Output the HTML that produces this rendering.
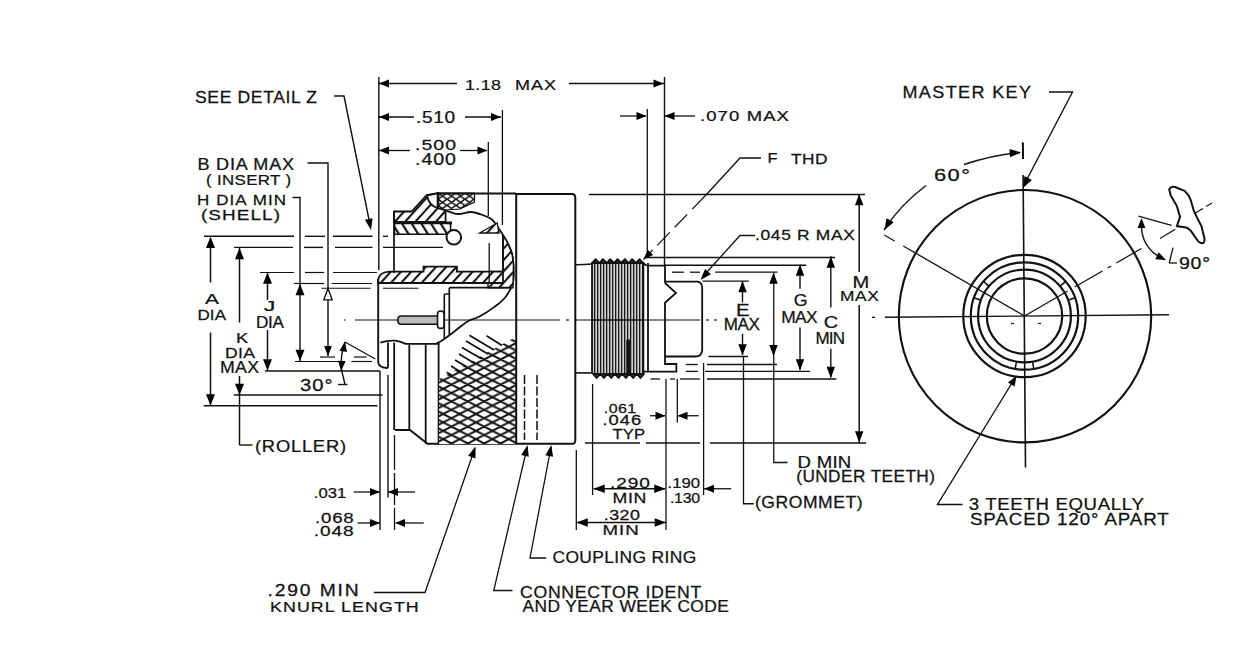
<!DOCTYPE html>
<html><head><meta charset="utf-8"><style>
html,body{margin:0;padding:0;background:#fff;}
svg{display:block;}
text{font-family:"Liberation Sans",sans-serif;fill:#111;stroke:#111;stroke-width:0.25px;}
</style></head><body>
<svg width="1240" height="651" viewBox="0 0 1240 651">
<rect width="1240" height="651" fill="#fff"/>
<g stroke="#111" stroke-linecap="butt" fill="none">
<line x1="378" y1="83.5" x2="457" y2="83.5" stroke-width="1.3"/>
<line x1="569" y1="83.5" x2="664" y2="83.5" stroke-width="1.3"/>
<polygon points="379.00,83.50 389.00,79.60 389.00,87.40" fill="#000" stroke="none"/>
<polygon points="663.50,83.50 653.50,87.40 653.50,79.60" fill="#000" stroke="none"/>
<line x1="378.8" y1="77" x2="378.8" y2="270" stroke-width="1.4"/>
<line x1="664.5" y1="77" x2="664.5" y2="266" stroke-width="1.4"/>
<line x1="378" y1="117" x2="414" y2="117" stroke-width="1.3"/>
<line x1="465" y1="117" x2="501" y2="117" stroke-width="1.3"/>
<polygon points="379.00,117.00 389.00,113.10 389.00,120.90" fill="#000" stroke="none"/>
<polygon points="501.00,117.00 491.00,120.90 491.00,113.10" fill="#000" stroke="none"/>
<line x1="502.4" y1="110" x2="502.4" y2="225" stroke-width="1.3"/>
<line x1="378" y1="150.5" x2="410" y2="150.5" stroke-width="1.3"/>
<line x1="460" y1="150.5" x2="487" y2="150.5" stroke-width="1.3"/>
<polygon points="379.00,150.50 389.00,146.60 389.00,154.40" fill="#000" stroke="none"/>
<polygon points="487.50,150.50 477.50,154.40 477.50,146.60" fill="#000" stroke="none"/>
<line x1="488.3" y1="142" x2="488.3" y2="216" stroke-width="1.3"/>
<line x1="620" y1="116" x2="646" y2="116" stroke-width="1.3"/>
<line x1="664" y1="116" x2="695" y2="116" stroke-width="1.3"/>
<polygon points="646.50,116.00 636.50,119.90 636.50,112.10" fill="#000" stroke="none"/>
<polygon points="664.50,116.00 674.50,112.10 674.50,119.90" fill="#000" stroke="none"/>
<line x1="647.3" y1="109" x2="647.3" y2="258" stroke-width="1.3"/>
<polyline points="334,96 344,96 370.5,227" fill="none" stroke-width="1.4"/>
<polygon points="371.00,230.00 364.95,219.74 372.60,218.20" fill="#000" stroke="none"/>
<polyline points="307.5,163 328,163 328,356" fill="none" stroke-width="1.4"/>
<polygon points="328.00,288.60 332.20,299.85 323.80,299.85" fill="#fff" stroke-width="1.4"/>
<polygon points="328.00,356.00 324.10,346.00 331.90,346.00" fill="#000" stroke="none"/>
<polyline points="292.5,197.5 300,197.5 300,361" fill="none" stroke-width="1.4"/>
<polygon points="300.00,284.00 304.50,295.25 295.50,295.25" fill="#000" stroke="none"/>
<polygon points="300.00,361.00 295.50,349.75 304.50,349.75" fill="#000" stroke="none"/>
<line x1="210.5" y1="238" x2="210.5" y2="282.5" stroke-width="1.5"/>
<line x1="210.5" y1="332.5" x2="210.5" y2="405.5" stroke-width="1.5"/>
<polygon points="210.50,236.80 215.00,248.05 206.00,248.05" fill="#000" stroke="none"/>
<polygon points="210.50,405.50 206.00,394.25 215.00,394.25" fill="#000" stroke="none"/>
<line x1="239.5" y1="248" x2="239.5" y2="322.5" stroke-width="1.5"/>
<line x1="239.5" y1="376" x2="239.5" y2="445" stroke-width="1.5"/>
<polygon points="239.50,247.90 244.00,259.15 235.00,259.15" fill="#000" stroke="none"/>
<polygon points="239.50,395.00 235.00,383.75 244.00,383.75" fill="#000" stroke="none"/>
<line x1="239.5" y1="445" x2="252.5" y2="445" stroke-width="1.4"/>
<line x1="267.5" y1="272.5" x2="267.5" y2="300" stroke-width="1.5"/>
<line x1="267.5" y1="330" x2="267.5" y2="371" stroke-width="1.5"/>
<polygon points="267.50,272.50 272.00,283.75 263.00,283.75" fill="#000" stroke="none"/>
<polygon points="267.50,370.50 263.00,359.25 272.00,359.25" fill="#000" stroke="none"/>
<line x1="204" y1="236.3" x2="294" y2="236.3" stroke-width="1.4"/>
<line x1="305" y1="236.3" x2="325" y2="236.3" stroke-width="1.4"/>
<line x1="333" y1="236.3" x2="372.5" y2="236.3" stroke-width="1.4"/>
<line x1="383" y1="236.3" x2="388" y2="236.3" stroke-width="1.4"/>
<line x1="234" y1="247.4" x2="293" y2="247.4" stroke-width="1.4"/>
<line x1="304" y1="247.4" x2="323" y2="247.4" stroke-width="1.4"/>
<line x1="335" y1="247.4" x2="372.5" y2="247.4" stroke-width="1.4"/>
<line x1="383" y1="247.4" x2="443" y2="247.4" stroke-width="1.4"/>
<line x1="260" y1="272.5" x2="294" y2="272.5" stroke-width="1.2"/>
<line x1="305" y1="272.5" x2="324" y2="272.5" stroke-width="1.2"/>
<line x1="333" y1="272.5" x2="377" y2="272.5" stroke-width="1.2"/>
<line x1="294" y1="283.5" x2="324" y2="283.5" stroke-width="1.2"/>
<line x1="331.6" y1="283.5" x2="372" y2="283.5" stroke-width="1.2"/>
<line x1="321.5" y1="288.3" x2="370.6" y2="288.3" stroke-width="1.1"/>
<line x1="383" y1="288.3" x2="418.5" y2="288.3" stroke-width="1.1"/>
<line x1="320" y1="357" x2="335" y2="357" stroke-width="1.2"/>
<line x1="354" y1="357" x2="366.5" y2="357" stroke-width="1.2"/>
<line x1="295" y1="361.5" x2="345" y2="361.5" stroke-width="1.2"/>
<line x1="351.5" y1="361.5" x2="372" y2="361.5" stroke-width="1.2"/>
<line x1="265" y1="371" x2="380" y2="371" stroke-width="1.4"/>
<line x1="233.75" y1="395" x2="382.5" y2="395" stroke-width="1.3"/>
<line x1="203.75" y1="405.75" x2="377.5" y2="405.75" stroke-width="1.3"/>
<path d="M345,342 Q340,356 341.6,370 L345,384.5" fill="none" stroke-width="1.4"/>
<line x1="338" y1="384.5" x2="347.5" y2="384.5" stroke-width="1.4"/>
<polygon points="345.00,341.50 346.96,352.00 339.57,350.70" fill="#000" stroke="none"/>
<polygon points="341.00,371.00 338.14,360.71 345.61,361.36" fill="#000" stroke="none"/>
<line x1="345" y1="342" x2="375.3" y2="359" stroke-width="1.3"/>
<line x1="380" y1="371" x2="380" y2="530" stroke-width="1.4"/>
<line x1="388" y1="375" x2="388" y2="497.5" stroke-width="1.4"/>
<line x1="394.5" y1="435" x2="394.5" y2="470" stroke-width="1.3"/>
<line x1="394.5" y1="473" x2="394.5" y2="505" stroke-width="1.3"/>
<line x1="394.5" y1="508" x2="394.5" y2="530" stroke-width="1.3"/>
<line x1="353.75" y1="492" x2="380" y2="492" stroke-width="1.3"/>
<line x1="387.5" y1="492" x2="415" y2="492" stroke-width="1.3"/>
<polygon points="380.00,492.00 370.00,495.90 370.00,488.10" fill="#000" stroke="none"/>
<polygon points="388.00,492.00 398.00,488.10 398.00,495.90" fill="#000" stroke="none"/>
<line x1="357.5" y1="523" x2="380" y2="523" stroke-width="1.3"/>
<line x1="396.25" y1="523" x2="423.75" y2="523" stroke-width="1.3"/>
<polygon points="380.00,523.00 370.00,526.90 370.00,519.10" fill="#000" stroke="none"/>
<polygon points="395.00,523.00 405.00,519.10 405.00,526.90" fill="#000" stroke="none"/>
<polyline points="373.75,592.5 425,592.5 475,448" fill="none" stroke-width="1.3"/>
<polygon points="475.50,446.50 475.51,458.41 468.14,455.86" fill="#000" stroke="none"/>
<polyline points="546.25,558 530,558 551,447" fill="none" stroke-width="1.3"/>
<polygon points="551.30,445.00 553.05,456.78 545.38,455.33" fill="#000" stroke="none"/>
<polyline points="512.5,590.5 493.75,590.5 527.2,447" fill="none" stroke-width="1.3"/>
<polygon points="527.50,445.00 528.76,456.84 521.16,455.08" fill="#000" stroke="none"/>
<line x1="585" y1="443" x2="640" y2="443" stroke-width="1.3"/>
<line x1="646" y1="443" x2="700" y2="443" stroke-width="1.3"/>
<line x1="710" y1="443" x2="866" y2="443" stroke-width="1.3"/>
<line x1="576.3" y1="450" x2="576.3" y2="530" stroke-width="1.3"/>
<line x1="592.6" y1="384" x2="592.6" y2="495" stroke-width="1.3"/>
<line x1="666" y1="379" x2="666" y2="530" stroke-width="1.3"/>
<line x1="677.3" y1="379" x2="677.3" y2="422.5" stroke-width="1.3"/>
<line x1="703.6" y1="363" x2="703.6" y2="495" stroke-width="1.3"/>
<polyline points="743.5,357 743.5,503.75 753.75,503.75" fill="none" stroke-width="1.3"/>
<polyline points="773.75,272.5 773.75,462.5 787.5,462.5" fill="none" stroke-width="1.3"/>
<line x1="650" y1="415.75" x2="665" y2="415.75" stroke-width="1.3"/>
<line x1="677.5" y1="415.75" x2="698.75" y2="415.75" stroke-width="1.3"/>
<polygon points="665.50,415.75 655.50,419.65 655.50,411.85" fill="#000" stroke="none"/>
<polygon points="677.50,415.75 687.50,411.85 687.50,419.65" fill="#000" stroke="none"/>
<line x1="593.75" y1="488.75" x2="665" y2="488.75" stroke-width="1.3"/>
<polygon points="593.50,488.75 604.75,484.55 604.75,492.95" fill="#000" stroke="none"/>
<polygon points="665.50,488.75 654.25,492.95 654.25,484.55" fill="#000" stroke="none"/>
<line x1="703.75" y1="488.75" x2="731.25" y2="488.75" stroke-width="1.3"/>
<polygon points="704.00,488.75 714.00,484.85 714.00,492.65" fill="#000" stroke="none"/>
<line x1="576.25" y1="522.5" x2="666.25" y2="522.5" stroke-width="1.3"/>
<polygon points="576.50,522.50 587.75,518.30 587.75,526.70" fill="#000" stroke="none"/>
<polygon points="666.00,522.50 654.75,526.70 654.75,518.30" fill="#000" stroke="none"/>
<line x1="645" y1="257.5" x2="835" y2="257.5" stroke-width="1.4"/>
<line x1="665" y1="265.3" x2="806.25" y2="265.3" stroke-width="1.4"/>
<line x1="672" y1="272.2" x2="684" y2="272.2" stroke-width="1.3"/>
<line x1="690" y1="272.2" x2="700" y2="272.2" stroke-width="1.3"/>
<line x1="715" y1="272.2" x2="777.5" y2="272.2" stroke-width="1.3"/>
<line x1="702.5" y1="281.2" x2="748.75" y2="281.2" stroke-width="1.3"/>
<line x1="708.5" y1="356.5" x2="748" y2="356.5" stroke-width="1.3"/>
<line x1="685.8" y1="364.5" x2="697.8" y2="364.5" stroke-width="1.3"/>
<line x1="707" y1="364.5" x2="777" y2="364.5" stroke-width="1.3"/>
<line x1="685.8" y1="371.4" x2="697.8" y2="371.4" stroke-width="1.3"/>
<line x1="705" y1="371.4" x2="810" y2="371.4" stroke-width="1.3"/>
<line x1="650.6" y1="379" x2="660" y2="379" stroke-width="1.3"/>
<line x1="670" y1="379" x2="675" y2="379" stroke-width="1.3"/>
<line x1="680" y1="379" x2="700" y2="379" stroke-width="1.3"/>
<line x1="707" y1="379" x2="836.25" y2="379" stroke-width="1.3"/>
<line x1="742.5" y1="281" x2="742.5" y2="302.5" stroke-width="1.4"/>
<line x1="742.5" y1="333.75" x2="742.5" y2="355" stroke-width="1.4"/>
<polygon points="742.50,281.00 746.70,292.25 738.30,292.25" fill="#000" stroke="none"/>
<polygon points="742.50,355.50 738.30,344.25 746.70,344.25" fill="#000" stroke="none"/>
<polygon points="773.50,272.50 777.70,283.75 769.30,283.75" fill="#000" stroke="none"/>
<polygon points="773.50,356.30 769.30,345.05 777.70,345.05" fill="#000" stroke="none"/>
<line x1="800" y1="264.5" x2="800" y2="288.75" stroke-width="1.4"/>
<line x1="800" y1="327.5" x2="800" y2="370" stroke-width="1.4"/>
<polygon points="800.00,264.50 804.20,275.75 795.80,275.75" fill="#000" stroke="none"/>
<polygon points="800.00,370.50 795.80,359.25 804.20,359.25" fill="#000" stroke="none"/>
<line x1="830.8" y1="256.25" x2="830.8" y2="307.5" stroke-width="1.4"/>
<line x1="830.8" y1="348.75" x2="830.8" y2="377.5" stroke-width="1.4"/>
<polygon points="830.80,256.50 835.00,267.75 826.60,267.75" fill="#000" stroke="none"/>
<polygon points="830.80,378.00 826.60,366.75 835.00,366.75" fill="#000" stroke="none"/>
<line x1="859.2" y1="194" x2="859.2" y2="272" stroke-width="1.5"/>
<line x1="859.2" y1="305" x2="859.2" y2="442.5" stroke-width="1.5"/>
<polygon points="859.20,194.00 863.40,205.25 855.00,205.25" fill="#000" stroke="none"/>
<polygon points="859.20,442.50 855.00,431.25 863.40,431.25" fill="#000" stroke="none"/>
<line x1="589" y1="194.5" x2="865" y2="194.5" stroke-width="1.4"/>
<polyline points="755,235.5 740,235.5 702,277.5" fill="none" stroke-width="1.3"/>
<polygon points="700.50,280.00 705.05,269.00 710.88,274.18" fill="#000" stroke="none"/>
<polyline points="761,158 740,158 706,195" fill="none" stroke-width="1.3"/>
<line x1="706.0" y1="195.0" x2="692.25" y2="209.19" stroke-width="1.2"/>
<line x1="687.25" y1="214.35" x2="674.75" y2="227.25" stroke-width="1.2"/>
<line x1="669.75" y1="232.41" x2="657.25" y2="245.31" stroke-width="1.2"/>
<line x1="652.875" y1="249.825" x2="643.5" y2="259.5" stroke-width="1.2"/>
<polygon points="643.50,259.50 647.77,249.71 653.15,254.93" fill="#000" stroke="none"/>
</g>
<g>
<text transform="translate(195,103.3) scale(1.097,1)" font-size="15.99" textLength="111.21" lengthAdjust="spacing">SEE DETAIL Z</text>
<text transform="translate(465,89.8) scale(1.167,1)" font-size="15.26" textLength="30.86" lengthAdjust="spacing">1.18</text>
<text transform="translate(515,89.8) scale(1.180,1)" font-size="15.26" textLength="34.75" lengthAdjust="spacing">MAX</text>
<text transform="translate(416,123.2) scale(1.193,1)" font-size="15.99" textLength="32.70" lengthAdjust="spacing">.510</text>
<text transform="translate(415,150.3) scale(1.273,1)" font-size="15.26" textLength="32.21" lengthAdjust="spacing">.500</text>
<text transform="translate(415,164.5) scale(1.249,1)" font-size="15.70" textLength="32.83" lengthAdjust="spacing">.400</text>
<text transform="translate(197.5,170.2) scale(1.131,1)" font-size="15.99" textLength="85.35" lengthAdjust="spacing">B DIA MAX</text>
<text transform="translate(206,184.5) scale(1.085,1)" font-size="15.55" textLength="78.36" lengthAdjust="spacing">( INSERT )</text>
<text transform="translate(197,205.2) scale(1.093,1)" font-size="15.55" textLength="81.44" lengthAdjust="spacing">H  DIA MIN</text>
<text transform="translate(201,219.5) scale(1.216,1)" font-size="15.55" textLength="64.96" lengthAdjust="spacing">(SHELL)</text>
<text transform="translate(700,121.2) scale(1.215,1)" font-size="15.26" textLength="73.23" lengthAdjust="spacing">.070 MAX</text>
<text transform="translate(767.5,162.7) scale(1.120,1)" font-size="14.68" textLength="8.04" lengthAdjust="spacing">F</text>
<text transform="translate(791,164.2) scale(1.134,1)" font-size="15.26" textLength="32.19" lengthAdjust="spacing">THD</text>
<text transform="translate(902.5,98.2) scale(1.128,1)" font-size="15.99" textLength="113.91" lengthAdjust="spacing">MASTER  KEY</text>
<text transform="translate(934,181.2) scale(1.331,1)" font-size="16.42" textLength="27.04" lengthAdjust="spacing">60°</text>
<text transform="translate(1179,269.2) scale(1.224,1)" font-size="15.99" textLength="25.33" lengthAdjust="spacing">90°</text>
<text transform="translate(755,239.7) scale(1.143,1)" font-size="15.26" textLength="87.49" lengthAdjust="spacing">.045 R MAX</text>
<text transform="translate(205,304.2) scale(1.371,1)" font-size="15.26" textLength="10.21" lengthAdjust="spacing">A</text>
<text transform="translate(197.5,320.2) scale(1.115,1)" font-size="15.26" textLength="25.56" lengthAdjust="spacing">DIA</text>
<text transform="translate(236,342.7) scale(1.197,1)" font-size="15.26" textLength="9.60" lengthAdjust="spacing">K</text>
<text transform="translate(225,357.7) scale(1.153,1)" font-size="15.26" textLength="26.03" lengthAdjust="spacing">DIA</text>
<text transform="translate(220,373.2) scale(1.108,1)" font-size="15.99" textLength="35.20" lengthAdjust="spacing">MAX</text>
<text transform="translate(264,311.2) scale(1.481,1)" font-size="15.26" textLength="7.43" lengthAdjust="spacing">J</text>
<text transform="translate(256,328.2) scale(1.071,1)" font-size="15.99" textLength="26.15" lengthAdjust="spacing">DIA</text>
<text transform="translate(300,390.7) scale(1.264,1)" font-size="15.99" textLength="25.72" lengthAdjust="spacing">30°</text>
<text transform="translate(255,451.5) scale(1.148,1)" font-size="15.99" textLength="79.29" lengthAdjust="spacing">(ROLLER)</text>
<text transform="translate(313.75,497.7) scale(1.092,1)" font-size="15.26" textLength="29.76" lengthAdjust="spacing">.031</text>
<text transform="translate(315,522.7) scale(1.225,1)" font-size="15.26" textLength="31.63" lengthAdjust="spacing">.068</text>
<text transform="translate(313.75,535.7) scale(1.252,1)" font-size="15.26" textLength="31.96" lengthAdjust="spacing">.048</text>
<text transform="translate(267.5,596.2) scale(1.209,1)" font-size="15.99" textLength="75.50" lengthAdjust="spacing">.290  MIN</text>
<text transform="translate(270,611.9) scale(1.167,1)" font-size="15.26" textLength="127.45" lengthAdjust="spacing">KNURL LENGTH</text>
<text transform="translate(736,315.7) scale(1.223,1)" font-size="16.72" textLength="10.63" lengthAdjust="spacing">E</text>
<text transform="translate(723.75,329.7) scale(1.046,1)" font-size="16.28" textLength="34.64" lengthAdjust="spacing">MAX</text>
<text transform="translate(793.75,306.4) scale(1.051,1)" font-size="17.01" textLength="11.90" lengthAdjust="spacing">G</text>
<text transform="translate(781.25,322.7) scale(1.019,1)" font-size="17.01" textLength="35.58" lengthAdjust="spacing">MAX</text>
<text transform="translate(823.75,327.7) scale(1.180,1)" font-size="17.01" textLength="11.66" lengthAdjust="spacing">C</text>
<text transform="translate(815.5,343.9) scale(1.001,1)" font-size="17.01" textLength="29.48" lengthAdjust="spacing">MIN</text>
<text transform="translate(852.5,287.7) scale(1.182,1)" font-size="17.01" textLength="13.75" lengthAdjust="spacing">M</text>
<text transform="translate(840,301.4) scale(1.137,1)" font-size="15.26" textLength="34.08" lengthAdjust="spacing">MAX</text>
<text transform="translate(603.75,412.7) scale(1.181,1)" font-size="13.52" textLength="27.51" lengthAdjust="spacing">.061</text>
<text transform="translate(602.5,424.7) scale(1.266,1)" font-size="14.53" textLength="30.60" lengthAdjust="spacing">.046</text>
<text transform="translate(612.5,438.9) scale(1.093,1)" font-size="15.26" textLength="29.75" lengthAdjust="spacing">TYP</text>
<text transform="translate(610,487.7) scale(1.252,1)" font-size="15.26" textLength="31.96" lengthAdjust="spacing">.290</text>
<text transform="translate(612.5,502.7) scale(1.166,1)" font-size="15.26" textLength="28.95" lengthAdjust="spacing">MIN</text>
<text transform="translate(667.5,487.7) scale(1.092,1)" font-size="15.26" textLength="29.76" lengthAdjust="spacing">.190</text>
<text transform="translate(670,502.7) scale(1.039,1)" font-size="15.26" textLength="28.88" lengthAdjust="spacing">.130</text>
<text transform="translate(603.75,520.2) scale(1.172,1)" font-size="15.26" textLength="30.93" lengthAdjust="spacing">.320</text>
<text transform="translate(602.5,535.2) scale(1.222,1)" font-size="15.26" textLength="29.66" lengthAdjust="spacing">MIN</text>
<text transform="translate(552.5,562.7) scale(1.071,1)" font-size="16.28" textLength="134.27" lengthAdjust="spacing">COUPLING RING</text>
<text transform="translate(520,598.2) scale(1.107,1)" font-size="15.99" textLength="163.75" lengthAdjust="spacing">CONNECTOR IDENT</text>
<text transform="translate(522.5,611.9) scale(1.067,1)" font-size="16.28" textLength="193.35" lengthAdjust="spacing">AND YEAR WEEK CODE</text>
<text transform="translate(797.5,467.7) scale(1.094,1)" font-size="17.01" textLength="49.14" lengthAdjust="spacing">D MIN</text>
<text transform="translate(796.25,481.5) scale(1.078,1)" font-size="15.99" textLength="128.68" lengthAdjust="spacing">(UNDER TEETH)</text>
<text transform="translate(755,507.5) scale(1.097,1)" font-size="15.99" textLength="97.99" lengthAdjust="spacing">(GROMMET)</text>
<text transform="translate(968.75,510.2) scale(1.094,1)" font-size="17.01" textLength="160.03" lengthAdjust="spacing">3 TEETH EQUALLY</text>
<text transform="translate(970,525.2) scale(1.103,1)" font-size="17.01" textLength="180.14" lengthAdjust="spacing">SPACED 120° APART</text>
</g>
<defs>
<pattern id="hatchF" patternUnits="userSpaceOnUse" width="7.6" height="9" patternTransform="rotate(42)">
<rect width="7.6" height="9" fill="#fff"/><line x1="1" y1="0" x2="1" y2="9" stroke="#111" stroke-width="2.1"/></pattern>
<pattern id="hatchB" patternUnits="userSpaceOnUse" width="8.2" height="8" patternTransform="rotate(-32)">
<rect width="8.2" height="8" fill="#fff"/><line x1="1" y1="0" x2="1" y2="8" stroke="#111" stroke-width="2.3"/></pattern>
<pattern id="knurl" patternUnits="userSpaceOnUse" width="16.4" height="8.4" x="443.2" y="439.2">
<rect width="16.4" height="8.4" fill="#fff"/>
<path d="M-8.2,-4.2 L24.6,12.6 M-8.2,4.2 L8.2,12.6 M8.2,-4.2 L24.6,4.2 M-8.2,12.6 L24.6,-4.2 M-8.2,4.2 L8.2,-4.2 M8.2,12.6 L24.6,4.2" stroke="#111" stroke-width="1.9" fill="none"/>
</pattern>
<pattern id="thread" patternUnits="userSpaceOnUse" width="3" height="10" x="591">
<rect width="3" height="10" fill="#d0d0d0"/><rect x="0" width="1.3" height="10" fill="#1a1a1a"/></pattern>
<pattern id="hexp" patternUnits="userSpaceOnUse" width="9" height="6.2" x="438" y="193">
<rect width="9" height="6.2" fill="#fff"/><path d="M0,0 L9,6.2 M9,0 L0,6.2 M-4.5,3.1 L0,0 M-4.5,3.1 L0,6.2" stroke="#111" stroke-width="1.5" fill="none"/></pattern>
</defs>
<g stroke="#111" fill="none">
<path d="M394,211.5 L411.6,211.5 L426.7,195 L438,193.2 L438,208 L445.6,210.5 L445.6,221.8 L394,221.8 Z" fill="url(#hatchF)" stroke-width="1.8"/>
<path d="M394.5,222.8 L450.6,222.8 L450.6,234.2 L394.5,234.2 Z" fill="url(#hatchB)" stroke-width="1.6"/>
<line x1="394.5" y1="222.8" x2="452" y2="222.8" stroke-width="2.8"/>
<path d="M438,193.2 L474.5,193.2 L474.5,202 L460,209 L445.6,210 L438,208 Z" fill="url(#hexp)" stroke-width="1.2"/>
<path d="M427,195.5 L438,193.2 L438,208 C433,207 428.5,203 427,195.5 Z" fill="#fff" stroke-width="1.8"/>
<line x1="438" y1="193.2" x2="438" y2="208" stroke-width="2.6"/>
<circle cx="453.8" cy="237.3" r="7.3" fill="#fff" stroke-width="2"/>
<line x1="436.7" y1="193.4" x2="516" y2="193.4" stroke-width="2.0"/>
<path d="M445.6,210.5 C447.67,211.08 453.80,213.75 458,214 C462.20,214.25 466.57,211.78 470.8,212 C475.03,212.22 479.87,214.05 483.4,215.3 C486.93,216.55 489.50,217.38 492,219.5 C494.50,221.62 496.07,224.58 498.4,228 C500.73,231.42 503.82,236.00 506,240 C508.18,244.00 510.25,247.83 511.5,252 C512.75,256.17 513.25,259.83 513.5,265 C513.75,270.17 514.37,277.63 513,283 C511.63,288.37 508.38,293.22 505.3,297.2 C502.22,301.18 498.80,303.68 494.5,306.9 C490.20,310.12 483.62,314.27 479.5,316.5 C475.38,318.73 472.67,318.85 469.8,320.3 C466.93,321.75 465.35,322.95 462.3,325.2 C459.25,327.45 455.08,331.12 451.5,333.8 C447.92,336.48 443.30,339.70 440.8,341.3 C438.30,342.90 437.22,343.05 436.5,343.4" fill="none" stroke-width="1.8"/>
<path d="M479.6,233 L497.2,223 L499,233 Z" fill="url(#hatchF)" stroke-width="1.3"/>
<path d="M503,236 L506,240 C509,246 511.5,252 511.5,252 C513,258 513.5,265 513.5,265 L513,287.7 L488,287.7 L488,271.6 L503,271.6 Z" fill="url(#hatchF)" stroke-width="1.5"/>
<path d="M378.2,282.3 L378.2,279 Q380,272 389.5,271.6 L423.5,271.6 L423.5,266.6 L456.9,266.6 L456.9,271.6 L503,271.6 L503,283 L378.2,283 Z" fill="url(#hatchF)" stroke-width="1.8"/>
<line x1="503" y1="236" x2="503" y2="272" stroke-width="1.8"/>
<line x1="489.2" y1="243" x2="489.2" y2="283" stroke-width="1.3"/>
<path d="M378.2,279 L378.2,362 Q378.5,368 388,368" fill="none" stroke-width="1.9"/>
<line x1="394" y1="211.5" x2="394" y2="273" stroke-width="1.7"/>
<line x1="449.3" y1="287.7" x2="511.5" y2="287.7" stroke-width="1.7"/>
<line x1="449.3" y1="287.7" x2="449.3" y2="336" stroke-width="1.7"/>
<line x1="444.3" y1="294" x2="444.3" y2="340" stroke-width="1.6"/>
<line x1="444.3" y1="294" x2="449.3" y2="294" stroke-width="1.4"/>
<path d="M438,316 L401,316 Q397.8,316 397.8,320.2 Q397.8,324.3 401,324.3 L438,324.3 Z" fill="#bbb" stroke-width="1.6"/>
<rect x="437.5" y="311" width="6.5" height="17.4" rx="3" fill="#fff" stroke-width="1.6"/>
<line x1="344" y1="320" x2="345.5" y2="320" stroke-width="1.2"/>
<line x1="355" y1="320" x2="398" y2="320" stroke-width="1.2"/>
<line x1="444" y1="320" x2="560" y2="320" stroke-width="1.2"/>
<line x1="566" y1="320" x2="569" y2="320" stroke-width="1.2"/>
<line x1="575" y1="320" x2="700" y2="320" stroke-width="1.2"/>
<line x1="706" y1="320" x2="709" y2="320" stroke-width="1.2"/>
<line x1="714" y1="320" x2="717" y2="320" stroke-width="1.2"/>
<path d="M380.4,342.6 Q388,340 395.5,340.7 Q401,341.5 405.6,343.9 L439.6,343.9" fill="none" stroke-width="1.8"/>
<line x1="388" y1="342.6" x2="388" y2="367.8" stroke-width="1.8"/>
<line x1="394.2" y1="342.6" x2="394.2" y2="430" stroke-width="1.8"/>
<line x1="409.3" y1="344.5" x2="409.3" y2="430" stroke-width="1.8"/>
<line x1="425.7" y1="344.5" x2="425.7" y2="443.8" stroke-width="1.8"/>
<line x1="438.6" y1="344" x2="438.6" y2="445" stroke-width="1.8"/>
<path d="M395,430 L410,430 L427.5,443.8 L572.5,443.8 Q575,443.8 575.3,441" fill="none" stroke-width="1.9"/>
<path d="M439,379 L516.5,336.5 L516.5,444 L439,444 Z" fill="url(#knurl)" stroke-width="0" stroke="none"/>
<line x1="446.8" y1="372.3" x2="452" y2="375.5" stroke-width="1.8"/>
<line x1="451" y1="366" x2="460" y2="371.5" stroke-width="1.8"/>
<line x1="455" y1="360" x2="467" y2="367" stroke-width="1.8"/>
<line x1="459" y1="354" x2="474" y2="363" stroke-width="1.8"/>
<line x1="462" y1="347.5" x2="481" y2="358.5" stroke-width="1.8"/>
<line x1="466" y1="341" x2="488" y2="354" stroke-width="1.8"/>
<line x1="469.4" y1="335.2" x2="494" y2="350" stroke-width="1.8"/>
<line x1="486.6" y1="335.8" x2="502" y2="345.4" stroke-width="1.8"/>
<path d="M516.2,194 L572,194 Q575.3,194 575.3,198 L575.3,441" fill="none" stroke-width="2.0"/>
<line x1="516.2" y1="193" x2="516.2" y2="444" stroke-width="2.0"/>
<line x1="524.5" y1="375.0" x2="524.5" y2="384.0" stroke-width="1.5"/>
<line x1="524.5" y1="386.5" x2="524.5" y2="395.5" stroke-width="1.5"/>
<line x1="524.5" y1="398.0" x2="524.5" y2="407.0" stroke-width="1.5"/>
<line x1="524.5" y1="409.5" x2="524.5" y2="418.5" stroke-width="1.5"/>
<line x1="524.5" y1="421.0" x2="524.5" y2="430.0" stroke-width="1.5"/>
<line x1="524.5" y1="432.5" x2="524.5" y2="440" stroke-width="1.5"/>
<line x1="537" y1="375.0" x2="537" y2="384.0" stroke-width="1.5"/>
<line x1="537" y1="386.5" x2="537" y2="395.5" stroke-width="1.5"/>
<line x1="537" y1="398.0" x2="537" y2="407.0" stroke-width="1.5"/>
<line x1="537" y1="409.5" x2="537" y2="418.5" stroke-width="1.5"/>
<line x1="537" y1="421.0" x2="537" y2="430.0" stroke-width="1.5"/>
<line x1="537" y1="432.5" x2="537" y2="440" stroke-width="1.5"/>
<path d="M575.3,264.8 Q584,264.6 592,264" fill="none" stroke-width="1.5"/>
<line x1="575.3" y1="372.9" x2="591" y2="372.9" stroke-width="1.6"/>
<rect x="592" y="262" width="51.5" height="112" fill="url(#thread)" stroke="none"/>
<line x1="592" y1="262" x2="592" y2="374" stroke-width="1.8"/>
<line x1="643.5" y1="262" x2="643.5" y2="374" stroke-width="1.5"/>
<path d="M592,263 L595.6,259.2 L599.3,263 L602.9,259.2 L606.6,263 L610.2,259.2 L613.9,263 L617.5,259.2 L621.2,263 L624.9,259.2 L628.5,263 L632.1,259.2 L635.8,263 L639.4,259.2 L643.1,263 Z" fill="#333" stroke-width="1.8" stroke-linejoin="round"/>
<path d="M593,374 L596.6,378 L600.3,374 L603.9,378 L607.6,374 L611.2,378 L614.9,374 L618.5,378 L622.2,374 L625.9,378 L629.5,374 L633.1,378 L636.8,374 L640.4,378 L644.1,374 Z" fill="#333" stroke-width="1.8" stroke-linejoin="round"/>
<rect x="626.8" y="340" width="3" height="34" fill="#111"/>
<line x1="592" y1="320" x2="643.5" y2="320" stroke-width="1.4"/>
<line x1="648" y1="263" x2="648" y2="371.6" stroke-width="1.8"/>
<path d="M643.5,262.8 Q645,265.6 648,265.6 L665,265.6 L665,283" fill="none" stroke-width="1.8"/>
<path d="M665,283 L676,293 L665,302.7 L665,364 L676.4,364 L676.4,371.6 L643.5,371.6" fill="none" stroke-width="1.8"/>
<path d="M665,281.7 L698,281.7 Q702.2,283 702.2,288 L702.2,350 Q702,356.5 695,356.5 L665,356.5" fill="none" stroke-width="1.8"/>
</g>
<g stroke="#111" fill="none">
<circle cx="1025" cy="316.2" r="126.2" stroke-width="2.1"/>
<circle cx="1024.5" cy="316" r="61.2" stroke-width="2.2"/>
<circle cx="1024.5" cy="316" r="53.7" stroke-width="2.2"/>
<circle cx="1024.5" cy="316" r="46.4" stroke-width="2.2"/>
<circle cx="1024.5" cy="316" r="37.7" stroke-width="2.2"/>
<line x1="1032.5572754437455" y1="361.69507973976647" x2="1033.8249071407142" y2="368.88417633675556" stroke-width="1.6"/>
<line x1="1016.4427245562545" y1="361.69507973976647" x2="1015.1750928592859" y2="368.88417633675556" stroke-width="1.6"/>
<line x1="980.8982623955338" y1="300.13026534968895" x2="974.0385062637968" y2="297.6335183034116" stroke-width="1.6"/>
<line x1="988.9555378392794" y1="286.1746549105446" x2="983.3634134045109" y2="281.4823053598328" stroke-width="1.6"/>
<line x1="1060.0444621607205" y1="286.1746549105446" x2="1065.636586595489" y2="281.4823053598328" stroke-width="1.6"/>
<line x1="1068.101737604466" y1="300.13026534968895" x2="1074.9614937362032" y2="297.6335183034116" stroke-width="1.6"/>
<line x1="872" y1="317.3" x2="875" y2="317.3" stroke-width="1.3"/>
<line x1="885" y1="317.2" x2="1169" y2="314.8" stroke-width="1.4"/>
<line x1="1022.8" y1="142.5" x2="1023" y2="159" stroke-width="1.7"/>
<line x1="1023.1" y1="175" x2="1025.5" y2="467.5" stroke-width="1.6"/>
<line x1="1024.5" y1="316" x2="903.2564434701786" y2="246.0" stroke-width="1.3"/>
<line x1="894.5961894323342" y1="241.0" x2="884.2038845869209" y2="235.0" stroke-width="1.3"/>
<line x1="1024.5" y1="316" x2="1067.801270189222" y2="291.0" stroke-width="1.3"/>
<line x1="1074.7294734194975" y1="287.0" x2="1102.4422863405994" y2="271.0" stroke-width="1.3"/>
<line x1="1107.638438763306" y1="268.0" x2="1111.1025403784438" y2="266.0" stroke-width="1.3"/>
<line x1="1116.2986928011505" y1="263.0" x2="1141.4134295108993" y2="248.5" stroke-width="1.3"/>
<line x1="1011" y1="323.5" x2="1014" y2="323.5" stroke-width="1.2"/>
<line x1="1038" y1="323.5" x2="1041" y2="323.5" stroke-width="1.2"/>
<path d="M964,164.5 Q992,155 1020,152.5" fill="none" stroke-width="1.4"/>
<polygon points="1021.00,152.50 1009.99,157.28 1009.55,148.89" fill="#000" stroke="none"/>
<path d="M926,185.5 Q900,205 884,230" fill="none" stroke-width="1.4"/>
<polygon points="884.50,230.00 886.49,218.16 893.76,222.36" fill="#000" stroke="none"/>
<line x1="1022.8" y1="142.5" x2="1023" y2="159" stroke-width="1.8"/>
<path d="M1049,92 L1072.5,92 L1024.5,184" fill="none" stroke-width="1.4"/>
<polygon points="1023.00,188.00 1024.42,176.08 1031.89,179.93" fill="#000" stroke="none"/>
<path d="M962.5,504.5 L937.5,504.5 L1015,378" fill="none" stroke-width="1.4"/>
<polygon points="1016.50,376.00 1014.59,386.56 1007.94,382.48" fill="#000" stroke="none"/>
<path d="M1169.2,189.2 Q1171,186 1175,187 L1184.5,190.8 Q1189,195 1190.7,200 L1193.8,210.7 Q1197,218 1201.4,226.1 L1204.5,238.4 Q1205,244 1201,243 L1198.4,241.5 L1190.7,230.7 Q1188,228 1186,227.6 L1176.9,226.1 L1180,216.9 Q1178,210 1176.9,206.1 L1170.7,195.4 Z" fill="none" stroke-width="2.0"/>
<line x1="1160" y1="238.4" x2="1175.3" y2="229.2" stroke-width="1.2"/>
<line x1="1193.8" y1="213.8" x2="1203" y2="208.5" stroke-width="1.2"/>
<line x1="1206" y1="206.5" x2="1212" y2="203" stroke-width="1.2"/>
<line x1="1138.4" y1="216.1" x2="1171.5" y2="225.3" stroke-width="1.3"/>
<line x1="1173" y1="247.6" x2="1169.2" y2="263" stroke-width="1.3"/>
<line x1="1169" y1="263" x2="1177" y2="263" stroke-width="1.3"/>
<path d="M1141.5,222 Q1140,248 1164.6,259.9" fill="none" stroke-width="1.4"/>
<polygon points="1141.50,218.00 1145.40,228.00 1137.60,228.00" fill="#000" stroke="none"/>
<polygon points="1166.00,260.00 1155.29,259.31 1158.59,252.24" fill="#000" stroke="none"/>
</g>
</svg>
</body></html>
